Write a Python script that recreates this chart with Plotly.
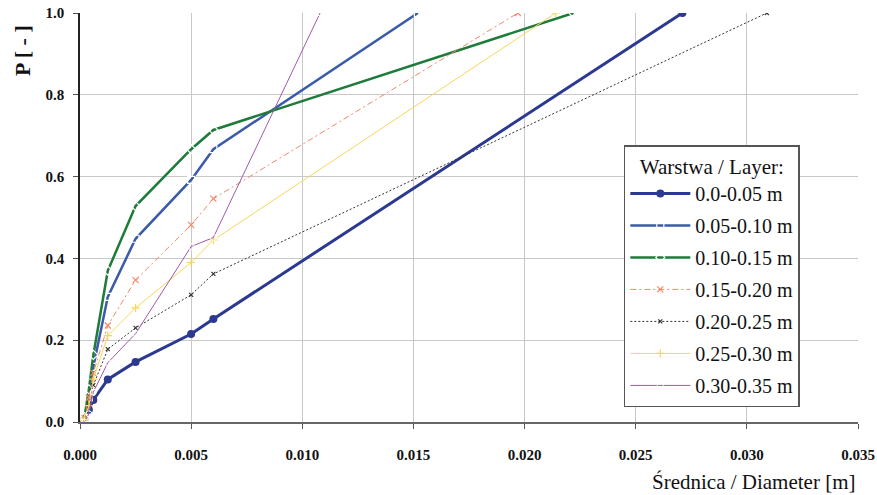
import plotly.graph_objects as go

# ---- data ----
layers = ["0.0-0.05 m", "0.05-0.10 m", "0.10-0.15 m", "0.15-0.20 m",
          "0.20-0.25 m", "0.25-0.30 m", "0.30-0.35 m"]

d_common = [0.0, 0.0001, 0.0002, 0.0004, 0.0006, 0.00125, 0.0025, 0.005, 0.006]
d_max = [0.0271, 0.0152, 0.0222, 0.0197, 0.0309, 0.0214, 0.0108]

p_l1 = [0.0, 0.002, 0.006, 0.030, 0.054, 0.104, 0.147, 0.215, 0.252, 1.0]
p_l2 = [0.0, 0.003, 0.010, 0.060, 0.135, 0.306, 0.448, 0.592, 0.667, 1.0]
p_l3 = [0.0, 0.004, 0.012, 0.080, 0.164, 0.370, 0.528, 0.667, 0.714, 1.0]
p_l4 = [0.0, 0.003, 0.010, 0.060, 0.120, 0.236, 0.347, 0.482, 0.546, 1.0]
p_l5 = [0.0, 0.002, 0.008, 0.045, 0.090, 0.178, 0.230, 0.311, 0.362, 1.0]
p_l6 = [0.0, 0.003, 0.010, 0.040, 0.105, 0.211, 0.279, 0.390, 0.445, 1.0]
p_l7 = [0.0, 0.0, 0.0, 0.020, 0.073, 0.145, 0.216, 0.429, 0.451, 1.0]

p_all = [p_l1, p_l2, p_l3, p_l4, p_l5, p_l6, p_l7]

x_ticks = [0.0, 0.005, 0.010, 0.015, 0.020, 0.025, 0.030, 0.035]
y_ticks = [0.0, 0.2, 0.4, 0.6, 0.8, 1.0]

# ---- styles ----
styles = [
    dict(color="#2B3990", width=3, dash="solid", symbol="circle", msize=8, mfill="#2B3990", mlw=0),
    dict(color="#3A5BAA", width=2.5, dash="solid", symbol="square-open", msize=7, mfill="white", mlw=1.2),
    dict(color="#1E7B3A", width=2.5, dash="solid", symbol="diamond-open", msize=7, mfill="white", mlw=1.2),
    dict(color="#F4876B", width=1, dash="6px,3px,2px,3px", symbol="x-thin-open", msize=6, mfill="#F4876B", mlw=1.2),
    dict(color="#333333", width=1, dash="2px,2px", symbol="x-thin-open", msize=4, mfill="#333333", mlw=1.2),
    dict(color="#F9D65B", width=1, dash="solid", symbol="cross-thin-open", msize=6, mfill="#F9D65B", mlw=1.2),
    dict(color="#A05AA8", width=1, dash="solid", symbol="circle-open", msize=6, mfill="white", mlw=1),
]

FONT = "Liberation Serif"

fig = go.Figure()
for i, (name, p, st) in enumerate(zip(layers, p_all, styles)):
    xs = d_common + [d_max[i]]
    fig.add_trace(go.Scatter(
        x=xs, y=p, name=name, mode="lines+markers",
        legendgroup=f"g{i}",
        line=dict(color=st["color"], width=st["width"], dash=st["dash"]),
        marker=dict(symbol=st["symbol"], size=st["msize"], color=st["mfill"],
                    line=dict(color=st["color"], width=st["mlw"])),
    ))

fig.update_layout(
    width=877, height=495,
    margin=dict(l=80, r=19, t=13, b=73),
    paper_bgcolor="white", plot_bgcolor="white",
    font=dict(family=FONT, color="#111111"),
    legend=dict(
        title=dict(text="Warstwa / Layer:", side="top center",
                   font=dict(size=21, family=FONT)),
        font=dict(size=20, family=FONT),
        x=0.699, y=0.677, xanchor="left", yanchor="top",
        bordercolor="#555555", borderwidth=1.5, bgcolor="white",
        tracegroupgap=3, itemwidth=60,
    ),
    xaxis=dict(
        range=[0, 0.035], tickvals=x_ticks, ticktext=[f"{v:.3f}" for v in x_ticks],
        showgrid=True, gridcolor="#C8C8C8", gridwidth=1,
        showline=True, linecolor="#666666", linewidth=1.5,
        ticks="outside", ticklen=5, tickcolor="#555555",
        tickfont=dict(size=15, family=FONT, color="#111111", weight="bold"),
        ticklabelstandoff=13, zeroline=False, automargin=False,
        ticklabeloverflow="allow",
    ),
    yaxis=dict(
        range=[0, 1.0], tickvals=y_ticks, ticktext=[f"{v:.1f}" for v in y_ticks],
        showgrid=True, gridcolor="#C8C8C8", gridwidth=1,
        showline=True, linecolor="#222222", linewidth=1.5,
        ticks="outside", ticklen=5, tickcolor="#555555",
        tickfont=dict(size=15, family=FONT, color="#111111", weight="bold"),
        ticklabelstandoff=6, zeroline=False, automargin=False,
        ticklabeloverflow="allow",
    ),
    annotations=[
        dict(text="<b>P [ - ]</b>", xref="paper", yref="paper", x=-0.0746, y=0.9095,
             xanchor="center", yanchor="middle", textangle=-90, showarrow=False,
             font=dict(size=22, family=FONT, color="#111111")),
        dict(text="Średnica / Diameter [m]", xref="paper", yref="paper", x=1.0, y=-0.1467,
             xanchor="right", yanchor="middle", showarrow=False,
             font=dict(size=21, family=FONT, color="#111111")),
    ],
)

fig.write_html("out.html", config={"displayModeBar": False},
               post_script="document.body.style.margin='0px';")
